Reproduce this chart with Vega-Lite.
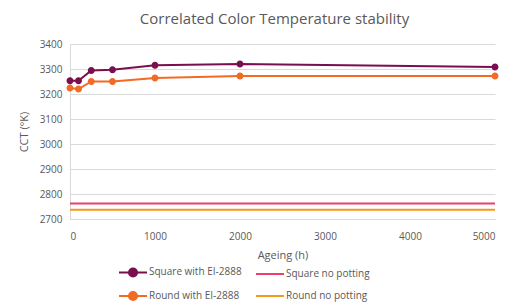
{
  "$schema": "https://vega.github.io/schema/vega-lite/v6.json",
  "autosize": {"type": "none"},
  "width": 425,
  "height": 175,
  "padding": {"left": 70, "top": 44, "right": 14, "bottom": 83},
  "background": "white",
  "title": {
    "text": "Correlated Color Temperature stability",
    "font": "Open Sans",
    "fontSize": 15,
    "fontWeight": "normal",
    "color": "#595959",
    "anchor": "middle",
    "offset": 12,
    "dx": -8
  },
  "config": {
    "view": {"stroke": null},
    "axis": {
      "labelFont": "Open Sans",
      "titleFont": "Open Sans",
      "labelFontSize": 10,
      "titleFontSize": 11,
      "labelColor": "#595959",
      "titleColor": "#595959",
      "titleFontWeight": "normal",
      "gridColor": "#d9d9d9",
      "domainColor": "#d9d9d9",
      "ticks": false,
      "format": "d"
    },
    "legend": {
      "labelFont": "Open Sans",
      "labelFontSize": 10,
      "labelColor": "#595959"
    }
  },
  "data": {
    "values": [
      {"series": "Square with EI-2888", "h": 0, "cct": 3253},
      {"series": "Square with EI-2888", "h": 100, "cct": 3253},
      {"series": "Square with EI-2888", "h": 250, "cct": 3294},
      {"series": "Square with EI-2888", "h": 500, "cct": 3297},
      {"series": "Square with EI-2888", "h": 1000, "cct": 3315},
      {"series": "Square with EI-2888", "h": 2000, "cct": 3320},
      {"series": "Square with EI-2888", "h": 5000, "cct": 3308},
      {"series": "Round with EI-2888", "h": 0, "cct": 3224},
      {"series": "Round with EI-2888", "h": 100, "cct": 3220},
      {"series": "Round with EI-2888", "h": 250, "cct": 3250},
      {"series": "Round with EI-2888", "h": 500, "cct": 3250},
      {"series": "Round with EI-2888", "h": 1000, "cct": 3264},
      {"series": "Round with EI-2888", "h": 2000, "cct": 3272},
      {"series": "Round with EI-2888", "h": 5000, "cct": 3272},
      {"series": "Square no potting", "h": 0, "cct": 2762},
      {"series": "Square no potting", "h": 5000, "cct": 2762},
      {"series": "Round no potting", "h": 0, "cct": 2737},
      {"series": "Round no potting", "h": 5000, "cct": 2737}
    ]
  },
  "encoding": {
    "x": {
      "field": "h",
      "type": "quantitative",
      "scale": {"domain": [0, 5000], "nice": false},
      "axis": {"values": [0, 1000, 2000, 3000, 4000, 5000], "grid": false, "title": "Ageing (h)", "labelPadding": 12, "titlePadding": 8, "domain": true}
    },
    "y": {
      "field": "cct",
      "type": "quantitative",
      "scale": {"domain": [2700, 3400], "nice": false, "zero": false},
      "axis": {"values": [2700, 2800, 2900, 3000, 3100, 3200, 3300, 3400], "title": "CCT (°K)", "labelPadding": 8, "titlePadding": 10, "domain": true}
    }
  },
  "layer": [
    {
      "mark": {"type": "line", "strokeWidth": 2},
      "encoding": {
        "color": {
          "field": "series",
          "type": "nominal",
          "scale": {
            "domain": ["Square with EI-2888", "Round with EI-2888", "Square no potting", "Round no potting"],
            "range": ["#7a0f4f", "#f26a24", "#ee3f68", "#f3991c"]
          },
          "legend": {
            "title": null,
            "orient": "none",
            "legendX": 48,
            "legendY": 213,
            "columns": 2,
            "columnPadding": 10,
            "rowPadding": 0,
            "symbolSize": 784,
            "labelOffset": 1,
            "encode": {
              "symbols": {
                "update": {
                  "stroke": {"scale": "color", "field": "value"},
                  "strokeWidth": {"value": 2}
                }
              }
            }
          }
        }
      }
    },
    {
      "transform": [{"filter": "indexof(datum.series, 'with') >= 0"}],
      "mark": {"type": "point", "filled": true, "opacity": 1, "size": 580, "strokeWidth": 0},
      "encoding": {
        "color": {
          "field": "series",
          "type": "nominal",
          "scale": {
            "domain": ["Square with EI-2888", "Round with EI-2888", "Square no potting", "Round no potting"],
            "range": ["#7a0f4f", "#f26a24", "#ee3f68", "#f3991c"]
          },
          "legend": {
            "title": null,
            "orient": "none",
            "legendX": 48,
            "legendY": 213,
            "columns": 2,
            "columnPadding": 10,
            "rowPadding": 0,
            "symbolSize": 784,
            "labelOffset": 1,
            "encode": {
              "symbols": {
                "update": {
                  "stroke": {"scale": "color", "field": "value"},
                  "strokeWidth": {"value": 2}
                }
              }
            }
          }
        },
        "shape": {
          "field": "series",
          "type": "nominal",
          "scale": {
            "domain": ["Square with EI-2888", "Round with EI-2888", "Square no potting", "Round no potting"],
            "range": [
              "M-1,0L1,0M0.29,0A0.29,0.29 0 1,1 -0.29,0A0.29,0.29 0 1,1 0.29,0Z",
              "M-1,0L1,0M0.29,0A0.29,0.29 0 1,1 -0.29,0A0.29,0.29 0 1,1 0.29,0Z",
              "M-1,0L1,0",
              "M-1,0L1,0"
            ]
          },
          "legend": {
            "title": null,
            "orient": "none",
            "legendX": 48,
            "legendY": 213,
            "columns": 2,
            "columnPadding": 10,
            "rowPadding": 0,
            "symbolSize": 784,
            "labelOffset": 1,
            "encode": {
              "symbols": {
                "update": {
                  "stroke": {"scale": "color", "field": "value"},
                  "strokeWidth": {"value": 2}
                }
              }
            }
          }
        }
      }
    }
  ]
}
